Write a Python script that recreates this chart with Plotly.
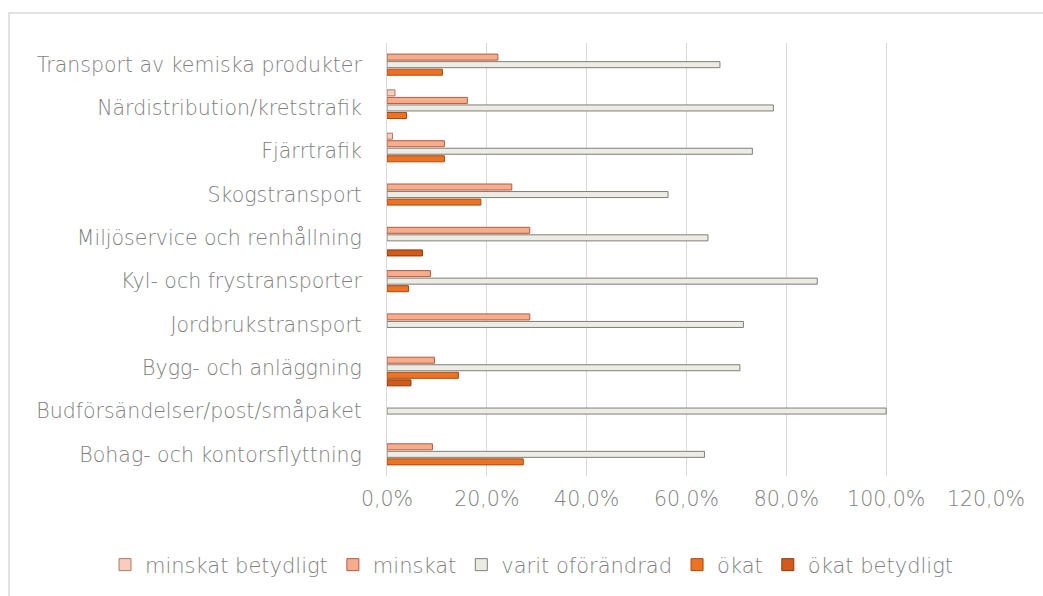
import plotly.graph_objects as go

categories = [
    "Bohag- och kontorsflyttning",
    "Budförsändelser/post/småpaket",
    "Bygg- och anläggning",
    "Jordbrukstransport",
    "Kyl- och frystransporter",
    "Miljöservice och renhållning",
    "Skogstransport",
    "Fjärrtrafik",
    "Närdistribution/kretstrafik",
    "Transport av kemiska produkter",
]

minskat_betydligt = [0, 0, 0, 0, 0, 0, 0, 0.011, 0.016, 0]
minskat = [0.091, 0, 0.095, 0.286, 0.087, 0.286, 0.25, 0.115, 0.161, 0.222]
varit_oforandrad = [0.636, 1.0, 0.707, 0.714, 0.862, 0.643, 0.563, 0.732, 0.774, 0.667]
okat = [0.273, 0, 0.143, 0, 0.043, 0, 0.188, 0.115, 0.039, 0.111]
okat_betydligt = [0, 0, 0.048, 0, 0, 0.071, 0, 0, 0, 0]

series = [
    ("ökat betydligt", okat_betydligt, "#D25A1A", "#8A3A10"),
    ("ökat", okat, "#EC7224", "#A84A10"),
    ("varit oförändrad", varit_oforandrad, "#ECECE4", "#7F7F78"),
    ("minskat", minskat, "#F5AD8E", "#B35A40"),
    ("minskat betydligt", minskat_betydligt, "#F6CDBE", "#B07868"),
]

font = dict(family="DejaVu Sans", size=20.5, color="#7F7F7F", weight=300)

fig = go.Figure()
for name, vals, fill, edge in series:
    # zero answers draw no bar at all
    fig.add_trace(go.Bar(
        y=categories,
        x=[v if v else None for v in vals],
        name=name,
        orientation="h",
        marker=dict(color=fill, line=dict(color=edge, width=1)),
    ))

fig.update_layout(
    width=1043,
    height=596,
    barmode="group",
    bargap=0.13,
    bargroupgap=0.2,
    plot_bgcolor="white",
    paper_bgcolor="white",
    font=font,
    separators=",.",
    margin=dict(l=387, r=57, t=43, b=119),
    showlegend=True,
    legend=dict(
        orientation="h",
        traceorder="reversed",
        x=(105 - 387) / 599,
        xanchor="left",
        y=(477 - 565) / 434,
        yanchor="middle",
        font=dict(family="DejaVu Sans", size=21, color="#7F7F7F", weight=300),
    ),
    xaxis=dict(
        range=[0, 1.2],
        dtick=0.2,
        tickformat=".1%",
        showgrid=True,
        gridcolor="#D9D9D9",
        gridwidth=1,
        zeroline=False,
        showline=False,
        ticks="",
        ticklabelstandoff=8,
    ),
    yaxis=dict(
        categoryorder="array",
        categoryarray=categories,
        showline=True,
        linecolor="#D9D9D9",
        linewidth=1,
        ticks="",
        ticklabelstandoff=20,
        automargin=False,
    ),
    shapes=[dict(
        type="rect",
        xref="paper",
        yref="paper",
        x0=(9 - 387) / 599,
        x1=(1060 - 387) / 599,
        y0=(477 - 620) / 434,
        y1=(477 - 13) / 434,
        line=dict(color="#D9D9D9", width=1.5),
        layer="below",
    )],
)

fig.write_html(
    "out.html",
    config={"displayModeBar": False},
    post_script="document.body.style.margin='0';",
)
